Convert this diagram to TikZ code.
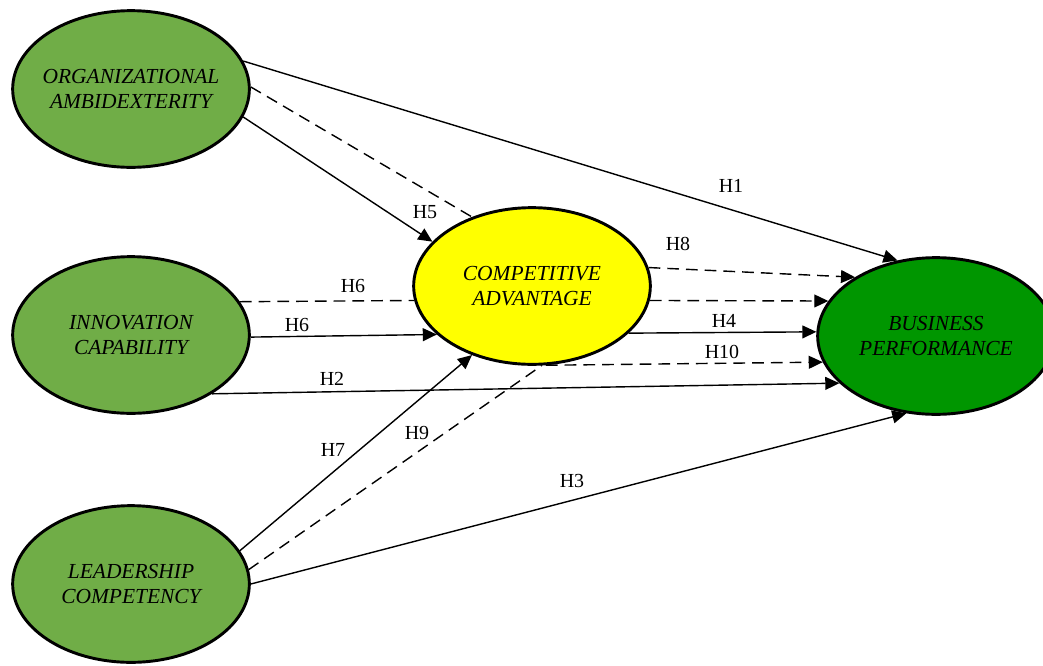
\documentclass[tikz,border=0pt]{standalone}
\usepackage{fontspec}
\setmainfont{Liberation Serif}
\usepackage{xcolor}
\usepackage{tikz}
\usetikzlibrary{positioning,arrows.meta,shapes.geometric}
\definecolor{LVGreen}{RGB}{112,173,71}
\definecolor{BPGreen}{RGB}{0,150,0}
\definecolor{CAYellow}{RGB}{255,255,0}

\begin{document}
\begin{tikzpicture}[x=0.03cm,y=-0.03cm]
				\tikzset{
					lv/.style={ellipse, draw=black, line width=2.5pt, minimum width=7.1cm,
						minimum height=4.7cm, inner xsep=-0.5cm, inner ysep=0pt, align=center,
						font=\fontsize{18.3}{21.3}\selectfont\itshape},
					h/.style={-{Triangle[length=12pt,width=11pt]}, draw=black, line width=1.2pt},
					m/.style={draw=black, line width=1.2pt, dash pattern=on 10pt off 6pt},
					w/.style={font=\fontsize{17}{20}\selectfont, inner sep=0pt}
				}
				\clip (0,0) rectangle (1043,665);
				
				% ======= Constructs =======
				\node[lv, fill=LVGreen] (oa) at (131, 89) {ORGANIZATIONAL\\AMBIDEXTERITY};
				\node[lv, fill=LVGreen] (ic) at (131,335) {INNOVATION\\CAPABILITY};
				\node[lv, fill=LVGreen] (lc) at (131,584) {LEADERSHIP\\COMPETENCY};
				\node[lv, fill=CAYellow] (ca) at (532,286) {COMPETITIVE\\ADVANTAGE};
				\node[lv, fill=BPGreen] (bp) at (936,336) {BUSINESS\\PERFORMANCE};
				
				% ======= Direct paths =======
				\draw[h] (oa.14)  -- (bp.117);
				\draw[h] (oa.-14) -- (ca.156);
				\draw[h] (ic.-1)  -- (ca.207);
				\draw[h] (ic.-36) -- (bp.206);
				\draw[h] (lc.17)  -- (ca.229);
				\draw[h] (lc.0)   -- (bp.249);
				\draw[h] (ca.-26) -- (bp.178);
				
				% ======= Mediated paths (dashed) =======
				\draw[m] (oa.1)  -- (ca.131);
				\draw[m] (ic.17) -- (ca.187);
				\draw[m] (lc.7)  -- (ca.277);
				\draw[h,m] (ca.9)   -- (bp.144);
				\draw[h,m] (ca.-7)  -- (bp.162);
				\draw[h,m] (ca.-80) -- (bp.193);
				
				% ======= Hypothesis labels =======
				\node[w] (h1)  at (731,186) {H1};
				\node[w] (h2)  at (332,379) {H2};
				\node[w] (h3)  at (572,481) {H3};
				\node[w] (h4)  at (724,321) {H4};
				\node[w] (h5)  at (425,212) {H5};
				\node[w] (h6a) at (353,286) {H6};
				\node[w] (h6b) at (297,325) {H6};
				\node[w] (h7)  at (333,450) {H7};
				\node[w] (h8)  at (678,244) {H8};
				\node[w] (h9)  at (417,433) {H9};
				\node[w] (h10) at (722,352) {H10};
			\end{tikzpicture}
\end{document}
